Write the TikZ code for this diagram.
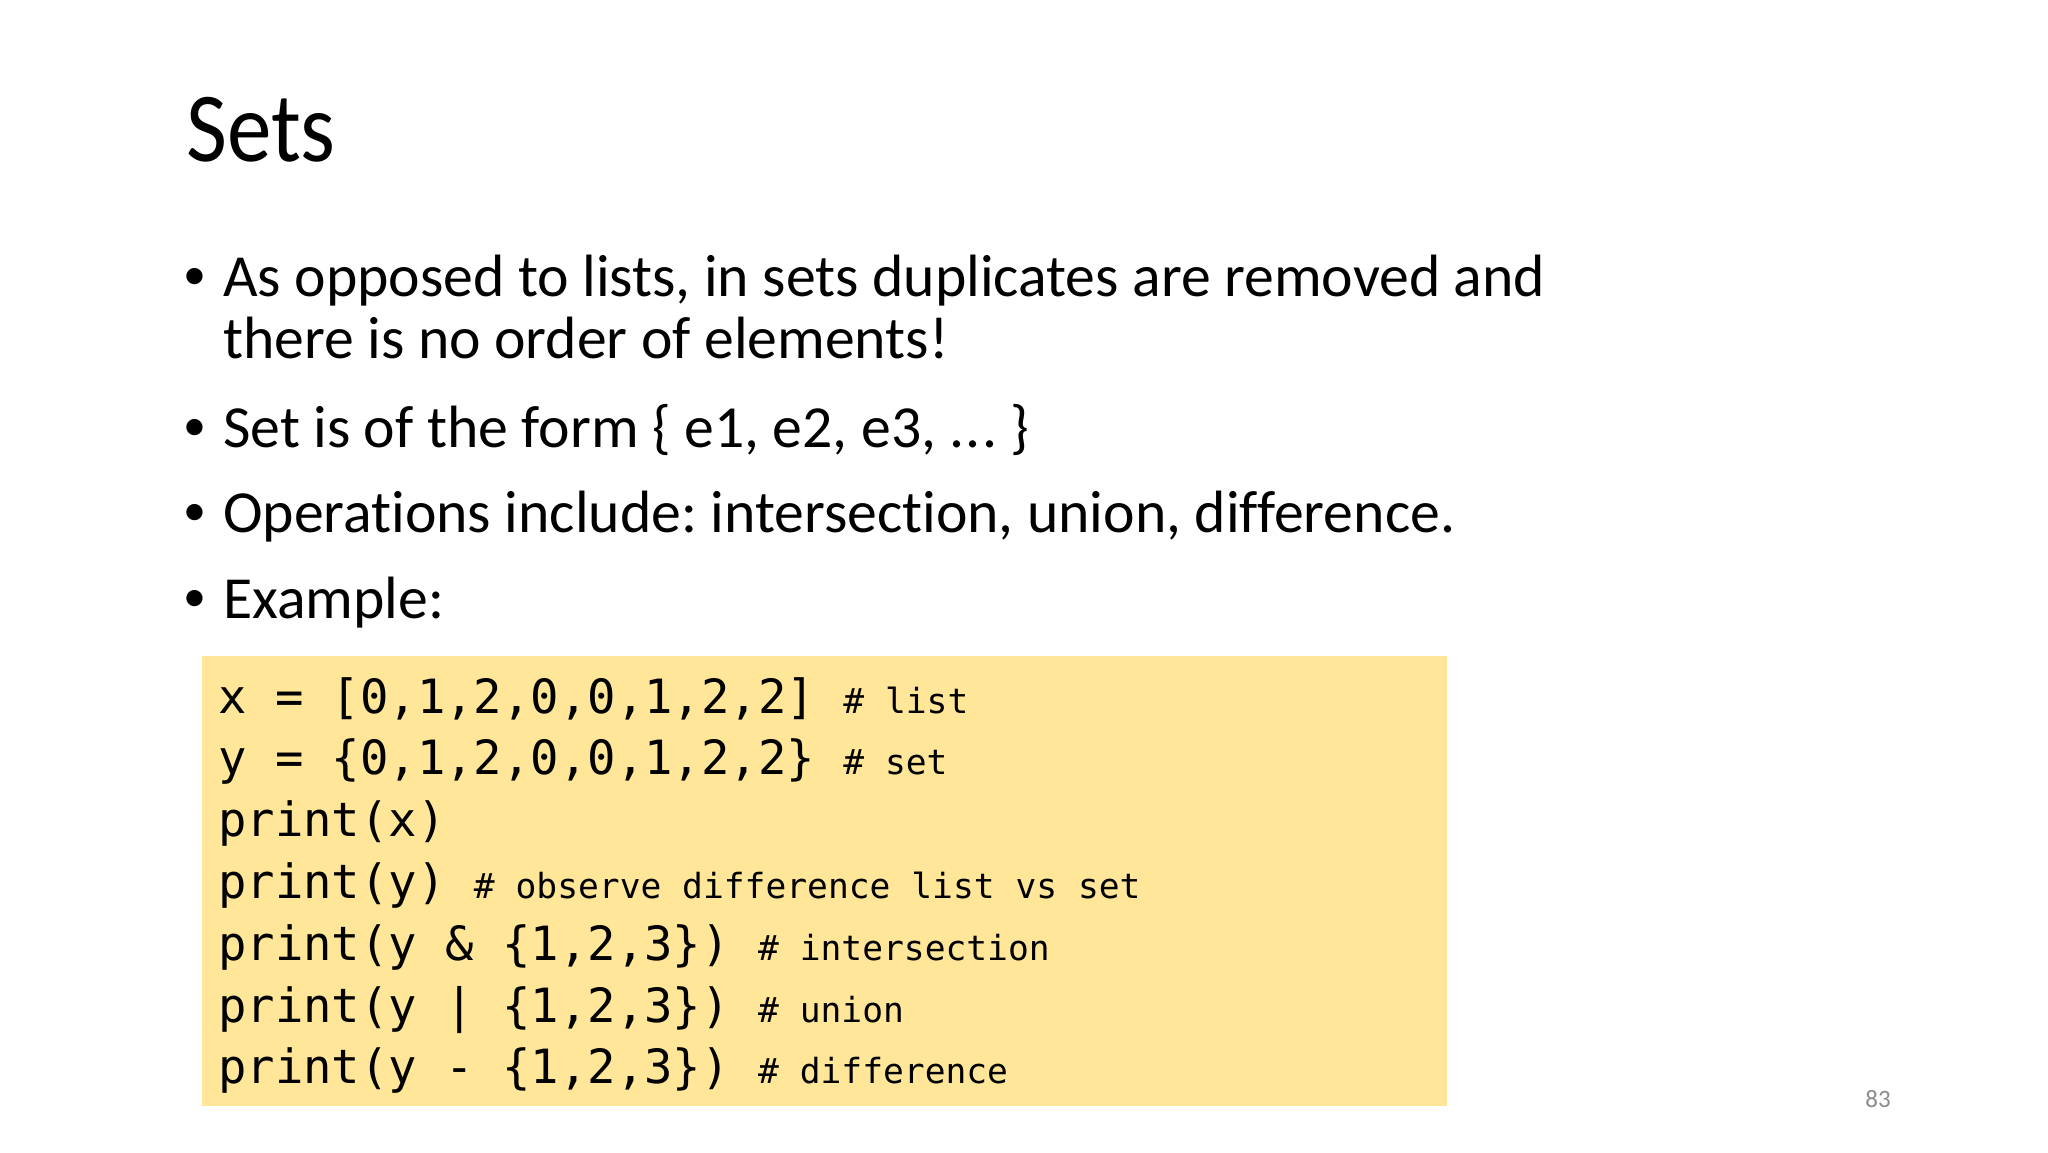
\documentclass[tikz,border=0pt]{standalone}
\usepackage{fontspec}
\setmainfont[Ligatures={NoCommon}]{Carlito}
\newfontfamily\TitleFont[FakeStretch=0.9,Ligatures={NoCommon}]{Carlito}
\newfontfamily\MonoFont{DejaVu Sans Mono}
\newcommand\CodeBig{\MonoFont\fontsize{47.2}{60}\selectfont}
\newcommand\CodeSmall{\MonoFont\fontsize{34.6}{44}\selectfont}
\definecolor{codebg}{HTML}{FFE699}
\definecolor{pagegray}{HTML}{8C8C8C}
\tikzset{
  titletext/.style={inner sep=0pt, anchor=base west, font=\TitleFont\fontsize{99}{110}\selectfont},
  bodytext/.style={inner sep=0pt, anchor=base west, font=\frenchspacing\fontsize{59.7}{70}\selectfont},
  bulletmark/.style={inner sep=0pt, anchor=center, font=\fontsize{46}{50}\selectfont},
  codeline/.style={inner sep=0pt, anchor=base west},
}
\begin{document}
\begin{tikzpicture}[x=1pt,y=-1pt]
\path[use as bounding box, fill=white] (0,0) rectangle (2048,1152);
% title
\node[titletext] (title) at (186,161) {Sets};
% bullets
\node[bulletmark] (b1) at (195,279) {•};
\node[bodytext] (t1a) at (223,296) {As opposed to lists, in sets duplicates are removed and};
\node[bodytext] (t1b) at (223,358) {there is no order of elements!};
\node[bulletmark] (b2) at (195,430) {•};
\node[bodytext] (t2) at (223,447) {Set is of the form \{ e1, e2, e3, .\kern0.02em.\kern0.02em. \}};
\node[bulletmark] (b3) at (195,515) {•};
\node[bodytext] (t3) at (223,532) {Operations include: intersection, union, difference.};
\node[bulletmark] (b4) at (195,601) {•};
\node[bodytext] (t4) at (223,618) {Example:};
% code box
\fill[codebg] (202,656) rectangle (1447,1106);
\node[codeline] (c1) at (218,713.0) {\CodeBig x = [0,1,2,0,0,1,2,2] \CodeSmall\# list};
\node[codeline] (c2) at (218,774.8) {\CodeBig y = \{0,1,2,0,0,1,2,2\} \CodeSmall\# set};
\node[codeline] (c3) at (218,836.6) {\CodeBig print(x)};
\node[codeline] (c4) at (218,898.4) {\CodeBig print(y) \CodeSmall\# observe difference list vs set};
\node[codeline] (c5) at (218,960.2) {\CodeBig print(y \& \{1,2,3\}) \CodeSmall\# intersection};
\node[codeline] (c6) at (218,1022.0) {\CodeBig print(y | \{1,2,3\}) \CodeSmall\# union};
\node[codeline] (c7) at (218,1083.8) {\CodeBig print(y - \{1,2,3\}) \CodeSmall\# difference};
% page number
\node[inner sep=0pt, anchor=base east, text=pagegray, font=\fontsize{25}{30}\selectfont] (pg) at (1891,1107) {83};
\end{tikzpicture}
\end{document}
